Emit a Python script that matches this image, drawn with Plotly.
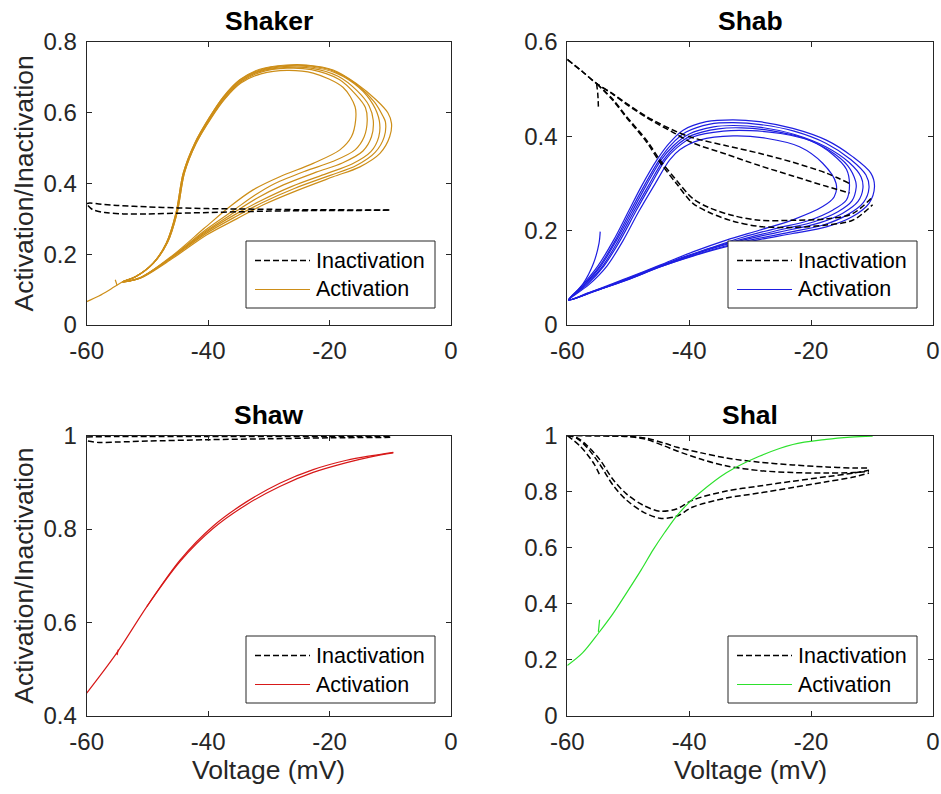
import plotly.graph_objects as go

# ---------------- data ----------------
# Shaker activation loops (V in mV, activation)
sk_act_v1 = [-54.1, -51.9, -49.1, -46.9, -45.3, -44.1, -42.2, -39.7, -37.5, -34.8, -31.5, -27.1, -23.8, -19.4, -15.6, -12.3, -10.4, -9.8, -10.1, -11.7, -15.0, -19.4, -25.4, -30.9, -35.3, -40.2, -45.7, -51.2, -54.1]
sk_act_y1 = [0.122, 0.137, 0.174, 0.231, 0.316, 0.429, 0.514, 0.589, 0.645, 0.693, 0.723, 0.735, 0.735, 0.721, 0.683, 0.636, 0.600, 0.570, 0.532, 0.485, 0.447, 0.419, 0.380, 0.340, 0.300, 0.255, 0.190, 0.132, 0.122]
sk_act_v2 = [-54.1, -51.9, -49.1, -46.9, -45.3, -44.1, -42.2, -39.7, -37.5, -34.8, -31.5, -27.1, -23.6, -19.2, -15.4, -12.6, -11.2, -10.8, -11.0, -12.5, -15.6, -19.9, -25.8, -31.2, -35.5, -40.3, -45.8, -51.2, -54.1]
sk_act_y2 = [0.122, 0.137, 0.174, 0.231, 0.316, 0.429, 0.514, 0.589, 0.644, 0.692, 0.721, 0.733, 0.733, 0.717, 0.678, 0.630, 0.590, 0.574, 0.532, 0.488, 0.451, 0.423, 0.386, 0.345, 0.306, 0.259, 0.192, 0.132, 0.122]
sk_act_v3 = [-54.1, -51.9, -49.1, -46.8, -45.2, -44.0, -42.1, -39.6, -37.4, -34.7, -31.4, -27.1, -23.3, -18.9, -15.2, -12.9, -11.8, -11.9, -13.2, -16.3, -20.5, -26.2, -31.5, -35.6, -40.3, -45.8, -51.2, -54.1]
sk_act_y3 = [0.122, 0.137, 0.174, 0.232, 0.317, 0.430, 0.514, 0.588, 0.643, 0.690, 0.719, 0.731, 0.730, 0.712, 0.672, 0.625, 0.577, 0.532, 0.490, 0.455, 0.428, 0.392, 0.350, 0.312, 0.263, 0.194, 0.133, 0.122]
sk_act_v4 = [-54.1, -51.9, -49.0, -46.8, -45.2, -44.0, -42.1, -39.6, -37.4, -34.7, -31.4, -27.0, -23.1, -18.6, -15.4, -13.5, -12.8, -13.1, -14.5, -17.9, -22.2, -27.6, -31.9, -35.8, -40.4, -45.8, -51.2, -54.1]
sk_act_y4 = [0.122, 0.137, 0.175, 0.233, 0.318, 0.430, 0.514, 0.588, 0.642, 0.689, 0.717, 0.728, 0.726, 0.703, 0.661, 0.620, 0.578, 0.532, 0.492, 0.458, 0.432, 0.396, 0.359, 0.317, 0.265, 0.194, 0.133, 0.122]
sk_act_v5 = [-54.1, -51.9, -49.0, -46.7, -45.1, -43.9, -42.0, -39.5, -37.3, -34.6, -31.3, -27.0, -23.0, -18.4, -15.6, -14.1, -13.8, -14.3, -15.8, -19.5, -24.0, -29.0, -32.2, -36.0, -40.5, -45.8, -51.2, -54.1]
sk_act_y5 = [0.122, 0.137, 0.175, 0.233, 0.318, 0.430, 0.513, 0.587, 0.640, 0.687, 0.715, 0.726, 0.722, 0.694, 0.650, 0.615, 0.578, 0.532, 0.495, 0.462, 0.435, 0.400, 0.368, 0.322, 0.268, 0.195, 0.134, 0.122]
sk_act_v6 = [-54.1, -51.9, -49.0, -46.7, -45.1, -43.9, -42.0, -39.5, -37.3, -34.6, -31.3, -27.0, -22.7, -17.8, -15.8, -15.7, -16.4, -18.3, -22.7, -28.2, -32.6, -36.4, -40.6, -45.9, -51.2, -54.1]
sk_act_y6 = [0.122, 0.137, 0.175, 0.233, 0.318, 0.430, 0.513, 0.585, 0.638, 0.684, 0.710, 0.720, 0.712, 0.672, 0.617, 0.580, 0.532, 0.495, 0.457, 0.419, 0.382, 0.335, 0.274, 0.196, 0.133, 0.122]
sk_start_v = [-60.0, -58.0, -56.0, -54.1]
sk_start_y = [0.066, 0.082, 0.102, 0.122]
sk_spur_v = [-55.0, -55.3]
sk_spur_y = [0.112, 0.128]
# Shaker inactivation
sk_in_v1 = [-60.0, -59.5, -58.0, -55.0, -50.0, -45.0, -40.0, -35.0, -30.0, -25.0, -20.0, -15.0, -10.0]
sk_in_y1 = [0.343, 0.345, 0.342, 0.338, 0.334, 0.331, 0.329, 0.328, 0.327, 0.326, 0.326, 0.325, 0.325]
sk_in_v2 = [-59.8, -59.0, -57.0, -54.0, -50.0, -45.0, -40.0, -35.0, -30.0, -25.0, -20.0, -15.0, -10.0]
sk_in_y2 = [0.338, 0.326, 0.318, 0.314, 0.314, 0.316, 0.318, 0.320, 0.322, 0.323, 0.324, 0.324, 0.325]

# Shab activation loops
sb_act_v1 = [-59.8, -57.5, -55.0, -52.4, -50.0, -47.8, -45.3, -43.3, -41.0, -37.2, -32.8, -28.5, -23.0, -17.5, -13.2, -10.2, -9.6, -10.5, -13.2, -17.5, -23.0, -28.5, -33.9, -39.4, -44.8, -50.3, -55.7, -59.8]
sb_act_y1 = [0.053, 0.085, 0.125, 0.180, 0.240, 0.295, 0.350, 0.385, 0.413, 0.431, 0.435, 0.431, 0.417, 0.392, 0.357, 0.322, 0.293, 0.258, 0.230, 0.208, 0.194, 0.181, 0.166, 0.146, 0.123, 0.095, 0.071, 0.053]
sb_act_v2 = [-59.8, -57.3, -54.7, -52.1, -49.7, -47.4, -44.9, -42.9, -40.5, -36.6, -32.8, -28.3, -22.8, -17.5, -13.5, -11.0, -10.5, -11.4, -14.0, -18.0, -23.0, -28.5, -33.9, -39.4, -44.8, -50.3, -55.7, -59.8]
sb_act_y2 = [0.053, 0.085, 0.125, 0.180, 0.240, 0.295, 0.350, 0.383, 0.409, 0.426, 0.429, 0.425, 0.411, 0.385, 0.351, 0.318, 0.291, 0.260, 0.234, 0.212, 0.198, 0.184, 0.168, 0.147, 0.123, 0.095, 0.071, 0.053]
sb_act_v3 = [-59.8, -57.2, -54.5, -51.9, -49.4, -47.1, -44.6, -42.6, -40.0, -36.0, -32.8, -28.2, -22.7, -17.6, -13.8, -11.8, -11.5, -12.3, -14.8, -18.5, -23.0, -28.5, -33.9, -39.4, -44.8, -50.3, -55.7, -59.8]
sb_act_y3 = [0.053, 0.085, 0.125, 0.180, 0.240, 0.295, 0.350, 0.380, 0.405, 0.420, 0.423, 0.419, 0.404, 0.378, 0.345, 0.314, 0.290, 0.262, 0.237, 0.217, 0.203, 0.188, 0.171, 0.149, 0.124, 0.096, 0.071, 0.053]
sb_act_v4 = [-59.8, -57.0, -54.2, -51.6, -49.1, -46.7, -44.2, -42.3, -39.6, -35.2, -31.4, -26.6, -21.4, -17.0, -14.0, -12.7, -12.6, -13.3, -15.6, -19.5, -24.3, -29.8, -35.2, -40.7, -46.2, -51.7, -56.6, -59.8]
sb_act_y4 = [0.053, 0.085, 0.125, 0.180, 0.240, 0.295, 0.350, 0.378, 0.402, 0.416, 0.418, 0.412, 0.397, 0.370, 0.338, 0.305, 0.292, 0.263, 0.240, 0.219, 0.204, 0.187, 0.168, 0.144, 0.118, 0.090, 0.068, 0.053]
sb_act_v5 = [-59.8, -56.8, -54.0, -51.3, -48.8, -46.4, -43.9, -42.0, -39.3, -34.4, -30.0, -25.0, -20.0, -16.5, -14.2, -13.7, -14.2, -16.4, -20.5, -25.7, -31.2, -36.6, -42.1, -47.6, -53.0, -59.8]
sb_act_y5 = [0.053, 0.085, 0.125, 0.180, 0.240, 0.295, 0.350, 0.376, 0.399, 0.411, 0.412, 0.406, 0.390, 0.362, 0.330, 0.295, 0.265, 0.244, 0.221, 0.205, 0.186, 0.163, 0.139, 0.111, 0.084, 0.053]
sb_act_v6 = [-59.8, -56.5, -53.5, -50.8, -48.3, -45.8, -43.2, -41.5, -38.3, -32.8, -27.4, -21.9, -18.1, -15.9, -16.2, -18.1, -23.0, -28.5, -33.9, -39.4, -44.8, -50.3, -55.7, -59.8]
sb_act_y6 = [0.053, 0.085, 0.125, 0.180, 0.240, 0.295, 0.350, 0.372, 0.392, 0.401, 0.396, 0.378, 0.343, 0.300, 0.272, 0.251, 0.223, 0.201, 0.180, 0.155, 0.127, 0.099, 0.072, 0.053]
sb_start_v = [-59.8, -57.4, -55.7, -54.8, -54.6]
sb_start_y = [0.053, 0.088, 0.131, 0.173, 0.198]
# Shab inactivation
sb_in_uv = [-60.0, -57.5, -55.2, -52.5, -50.3, -47.0, -42.6, -39.4, -33.9, -28.5, -23.0, -17.5, -13.7]
sb_in_uy1 = [0.563, 0.537, 0.512, 0.490, 0.470, 0.442, 0.413, 0.397, 0.380, 0.364, 0.345, 0.322, 0.300]
sb_in_uy2 = [0.563, 0.537, 0.512, 0.489, 0.468, 0.440, 0.408, 0.386, 0.362, 0.338, 0.316, 0.294, 0.280]
sb_in_lv = [-55.2, -52.5, -50.3, -47.0, -44.8, -42.1, -39.4, -36.6, -32.8, -28.5, -23.0, -17.5, -13.2, -9.9]
sb_in_ly1 = [0.512, 0.478, 0.442, 0.392, 0.350, 0.307, 0.268, 0.248, 0.232, 0.222, 0.222, 0.225, 0.236, 0.272]
sb_in_ly2 = [0.512, 0.476, 0.440, 0.388, 0.345, 0.300, 0.258, 0.238, 0.220, 0.209, 0.207, 0.212, 0.222, 0.255]
sb_in_spur_v = [-55.2, -55.0, -54.9]
sb_in_spur_y = [0.512, 0.490, 0.463]

# Shaw activation
sw_act_v1 = [-60.0, -55.1, -50.1, -44.6, -39.2, -33.7, -28.2, -22.7, -17.2, -13.0, -9.5]
sw_act_y1 = [0.449, 0.534, 0.634, 0.734, 0.806, 0.858, 0.898, 0.927, 0.947, 0.957, 0.964]
sw_act_v2 = [-50.1, -44.6, -39.2, -33.7, -28.2, -22.7, -17.2, -13.0, -9.5]
sw_act_y2 = [0.634, 0.731, 0.801, 0.852, 0.891, 0.921, 0.942, 0.955, 0.963]
sw_spur_v = [-55.0, -54.8]
sw_spur_y = [0.530, 0.542]
# Shaw inactivation
sw_in_v1 = [-60.0, -55.0, -50.0, -40.0, -30.0, -20.0, -10.0]
sw_in_y1 = [0.997, 0.998, 0.998, 0.998, 0.998, 0.998, 0.998]
sw_in_v2 = [-59.8, -58.0, -55.0, -50.0, -40.0, -30.0, -20.0, -10.0]
sw_in_y2 = [0.988, 0.985, 0.986, 0.988, 0.991, 0.993, 0.995, 0.996]

# Shal activation
sl_act_v = [-60.0, -57.5, -54.9, -52.5, -50.3, -47.9, -45.9, -44.0, -42.1, -40.2, -38.3, -33.9, -28.5, -23.0, -17.5, -13.5, -9.9]
sl_act_y = [0.180, 0.225, 0.295, 0.365, 0.438, 0.520, 0.593, 0.655, 0.712, 0.757, 0.795, 0.867, 0.926, 0.968, 0.986, 0.994, 0.998]
sl_spur_v = [-54.9, -54.7]
sl_spur_y = [0.300, 0.343]
# Shal inactivation
sl_in_uv = [-60.0, -55.0, -50.0, -47.0, -44.0, -42.0, -38.0, -34.0, -28.5, -23.0, -17.5, -13.0, -10.5]
sl_in_uy1 = [1.000, 0.999, 0.997, 0.990, 0.972, 0.958, 0.938, 0.920, 0.905, 0.895, 0.888, 0.884, 0.884]
sl_in_uy2 = [1.000, 0.999, 0.996, 0.986, 0.962, 0.945, 0.915, 0.892, 0.875, 0.868, 0.866, 0.868, 0.872]
sl_in_lv = [-60.0, -58.5, -56.8, -54.6, -52.5, -50.3, -47.6, -44.8, -42.1, -39.4, -33.9, -28.5, -23.0, -17.5, -13.0, -10.5]
sl_in_ly1 = [1.000, 0.993, 0.965, 0.912, 0.843, 0.792, 0.752, 0.730, 0.738, 0.770, 0.802, 0.820, 0.837, 0.853, 0.866, 0.876]
sl_in_ly2 = [1.000, 0.991, 0.958, 0.895, 0.823, 0.770, 0.728, 0.705, 0.712, 0.745, 0.777, 0.795, 0.815, 0.835, 0.852, 0.866]
sl_in_spur_v = [-60.0, -57.9, -55.7, -54.6]
sl_in_spur_y = [1.000, 0.962, 0.902, 0.855]

titles = ["Shaker", "Shab", "Shaw", "Shal"]
legend_labels = ["Inactivation", "Activation"]
x_ticks = [-60, -40, -20, 0]
y_ticks_top_left = [0, 0.2, 0.4, 0.6, 0.8]
y_ticks_top_right = [0, 0.2, 0.4, 0.6]
y_ticks_bottom_left = [0.4, 0.6, 0.8, 1]
y_ticks_bottom_right = [0, 0.2, 0.4, 0.6, 0.8, 1]

# ---------------- styling ----------------
W, H = 941, 794
FONT = "Liberation Sans, Arial, Helvetica, sans-serif"
AX = "#262626"
C_SHAKER = "rgb(205,142,24)"
C_SHAB = "rgb(30,30,225)"
C_SHAW = "rgb(215,25,25)"
C_SHAL = "rgb(45,225,45)"
LW = 1.2
LW_D = 1.5
DASH = "6px,3px"

fig = go.Figure()

def add(v, y, ax, color, dash=None):
    fig.add_trace(go.Scatter(
        x=v, y=y, mode="lines", xaxis="x" + ax, yaxis="y" + ax,
        line=dict(color=color, width=LW_D if dash else LW, dash=dash, shape="spline", smoothing=0.9),
        showlegend=False, hoverinfo="skip"))

# Shaker (axes 1)
for v, y in [(sk_act_v1, sk_act_y1), (sk_act_v2, sk_act_y2), (sk_act_v3, sk_act_y3), (sk_act_v4, sk_act_y4),
             (sk_act_v5, sk_act_y5), (sk_act_v6, sk_act_y6), (sk_start_v, sk_start_y), (sk_spur_v, sk_spur_y)]:
    add(v, y, "", C_SHAKER)
add(sk_in_v1, sk_in_y1, "", "black", DASH)
add(sk_in_v2, sk_in_y2, "", "black", DASH)

# Shab (axes 2)
for v, y in [(sb_act_v1, sb_act_y1), (sb_act_v2, sb_act_y2), (sb_act_v3, sb_act_y3), (sb_act_v4, sb_act_y4),
             (sb_act_v5, sb_act_y5), (sb_act_v6, sb_act_y6), (sb_start_v, sb_start_y)]:
    add(v, y, "2", C_SHAB)
for v, y in [(sb_in_uv, sb_in_uy1), (sb_in_uv, sb_in_uy2), (sb_in_lv, sb_in_ly1), (sb_in_lv, sb_in_ly2),
             (sb_in_spur_v, sb_in_spur_y)]:
    add(v, y, "2", "black", DASH)

# Shaw (axes 3)
add(sw_act_v1, sw_act_y1, "3", C_SHAW)
add(sw_act_v2, sw_act_y2, "3", C_SHAW)
add(sw_spur_v, sw_spur_y, "3", C_SHAW)
add(sw_in_v1, sw_in_y1, "3", "black", DASH)
add(sw_in_v2, sw_in_y2, "3", "black", DASH)

# Shal (axes 4)
for v, y in [(sl_in_uv, sl_in_uy1), (sl_in_uv, sl_in_uy2), (sl_in_lv, sl_in_ly1), (sl_in_lv, sl_in_ly2),
             (sl_in_spur_v, sl_in_spur_y)]:
    add(v, y, "4", "black", DASH)
add(sl_act_v, sl_act_y, "4", C_SHAL)
add(sl_spur_v, sl_spur_y, "4", C_SHAL)

# ---------------- layout ----------------
col_px = [(86.7, 451.0), (567.3, 933.0)]
row_px = [(42.0, 325.0), (435.5, 716.0)]

def xdom(c):
    return [col_px[c][0] / W, col_px[c][1] / W]

def ydom(r):
    return [1 - row_px[r][1] / H, 1 - row_px[r][0] / H]

tickfont = dict(family=FONT, size=24, color=AX)

def xaxis(c, anchor):
    return dict(domain=xdom(c), anchor=anchor, range=[-60, 0], tickvals=x_ticks,
                ticktext=[str(t) for t in x_ticks], ticks="inside", ticklen=5, tickwidth=1,
                tickcolor=AX, showline=True, linecolor=AX, linewidth=1, mirror="allticks",
                showgrid=False, zeroline=False, tickfont=tickfont, automargin=False,
                ticklabelstandoff=4, fixedrange=True)

def yaxis(r, anchor, rng, tv):
    return dict(domain=ydom(r), anchor=anchor, range=rng, tickvals=tv,
                ticktext=[("%g" % t) for t in tv], ticks="inside", ticklen=5, tickwidth=1,
                tickcolor=AX, showline=True, linecolor=AX, linewidth=1, mirror="allticks",
                showgrid=False, zeroline=False, tickfont=tickfont, automargin=False,
                ticklabelstandoff=4, fixedrange=True)

lay = dict(width=W, height=H, margin=dict(l=0, r=0, t=0, b=0), showlegend=False,
           paper_bgcolor="white", plot_bgcolor="white", font=dict(family=FONT, color=AX))
lay["xaxis"] = xaxis(0, "y")
lay["yaxis"] = yaxis(0, "x", [0, 0.8], y_ticks_top_left)
lay["xaxis2"] = xaxis(1, "y2")
lay["yaxis2"] = yaxis(0, "x2", [0, 0.6], y_ticks_top_right)
lay["xaxis3"] = xaxis(0, "y3")
lay["yaxis3"] = yaxis(1, "x3", [0.4, 1.0], y_ticks_bottom_left)
lay["xaxis4"] = xaxis(1, "y4")
lay["yaxis4"] = yaxis(1, "x4", [0, 1.0], y_ticks_bottom_right)

annotations = []
shapes = []

# legend boxes drawn inside each panel (MATLAB style)
def legend_box(x0, y0, color):
    px = lambda v: v / W
    py = lambda v: 1 - v / H
    shapes.append(dict(type="rect", xref="paper", yref="paper", x0=px(x0), x1=px(x0 + 189),
                       y0=py(y0), y1=py(y0 + 67), fillcolor="white",
                       line=dict(color=AX, width=1), layer="above"))
    rows = [(y0 + 19.5, "black", DASH, LW_D), (y0 + 48.5, color, None, LW)]
    for (yy, col, dash, w), lab in zip(rows, legend_labels):
        shapes.append(dict(type="line", xref="paper", yref="paper", x0=px(x0 + 9), x1=px(x0 + 64),
                           y0=py(yy), y1=py(yy), line=dict(color=col, width=w, dash=dash),
                           layer="above"))
        annotations.append(dict(text=lab, x=px(x0 + 68), y=py(yy), xref="paper", yref="paper",
                                xanchor="left", yanchor="middle", showarrow=False,
                                font=dict(family=FONT, size=21.5, color="black")))

legend_box(246, 241, C_SHAKER)
legend_box(728, 241, C_SHAB)
legend_box(246, 636, C_SHAW)
legend_box(728, 636, C_SHAL)

for i, t in enumerate(titles):
    c, r = i % 2, i // 2
    cx = (col_px[c][0] + col_px[c][1]) / 2 / W
    annotations.append(dict(text="<b>%s</b>" % t, x=cx, y=1 - (row_px[r][0] - 4) / H,
                            xref="paper", yref="paper", xanchor="center", yanchor="bottom",
                            showarrow=False, font=dict(family=FONT, size=26.5, color="black")))
for r in range(2):
    annotations.append(dict(text="Activation/Inactivation", x=24 / W,
                            y=1 - (row_px[r][0] + row_px[r][1]) / 2 / H,
                            xref="paper", yref="paper", xanchor="center", yanchor="middle",
                            textangle=-90, showarrow=False,
                            font=dict(family=FONT, size=26.5, color=AX)))
for c in range(2):
    annotations.append(dict(text="Voltage (mV)", x=(col_px[c][0] + col_px[c][1]) / 2 / W,
                            y=1 - 770 / H, xref="paper", yref="paper", xanchor="center",
                            yanchor="middle", showarrow=False,
                            font=dict(family=FONT, size=26.5, color=AX)))
lay["annotations"] = annotations
lay["shapes"] = shapes

fig.update_layout(**lay)
fig.write_html("out.html")
